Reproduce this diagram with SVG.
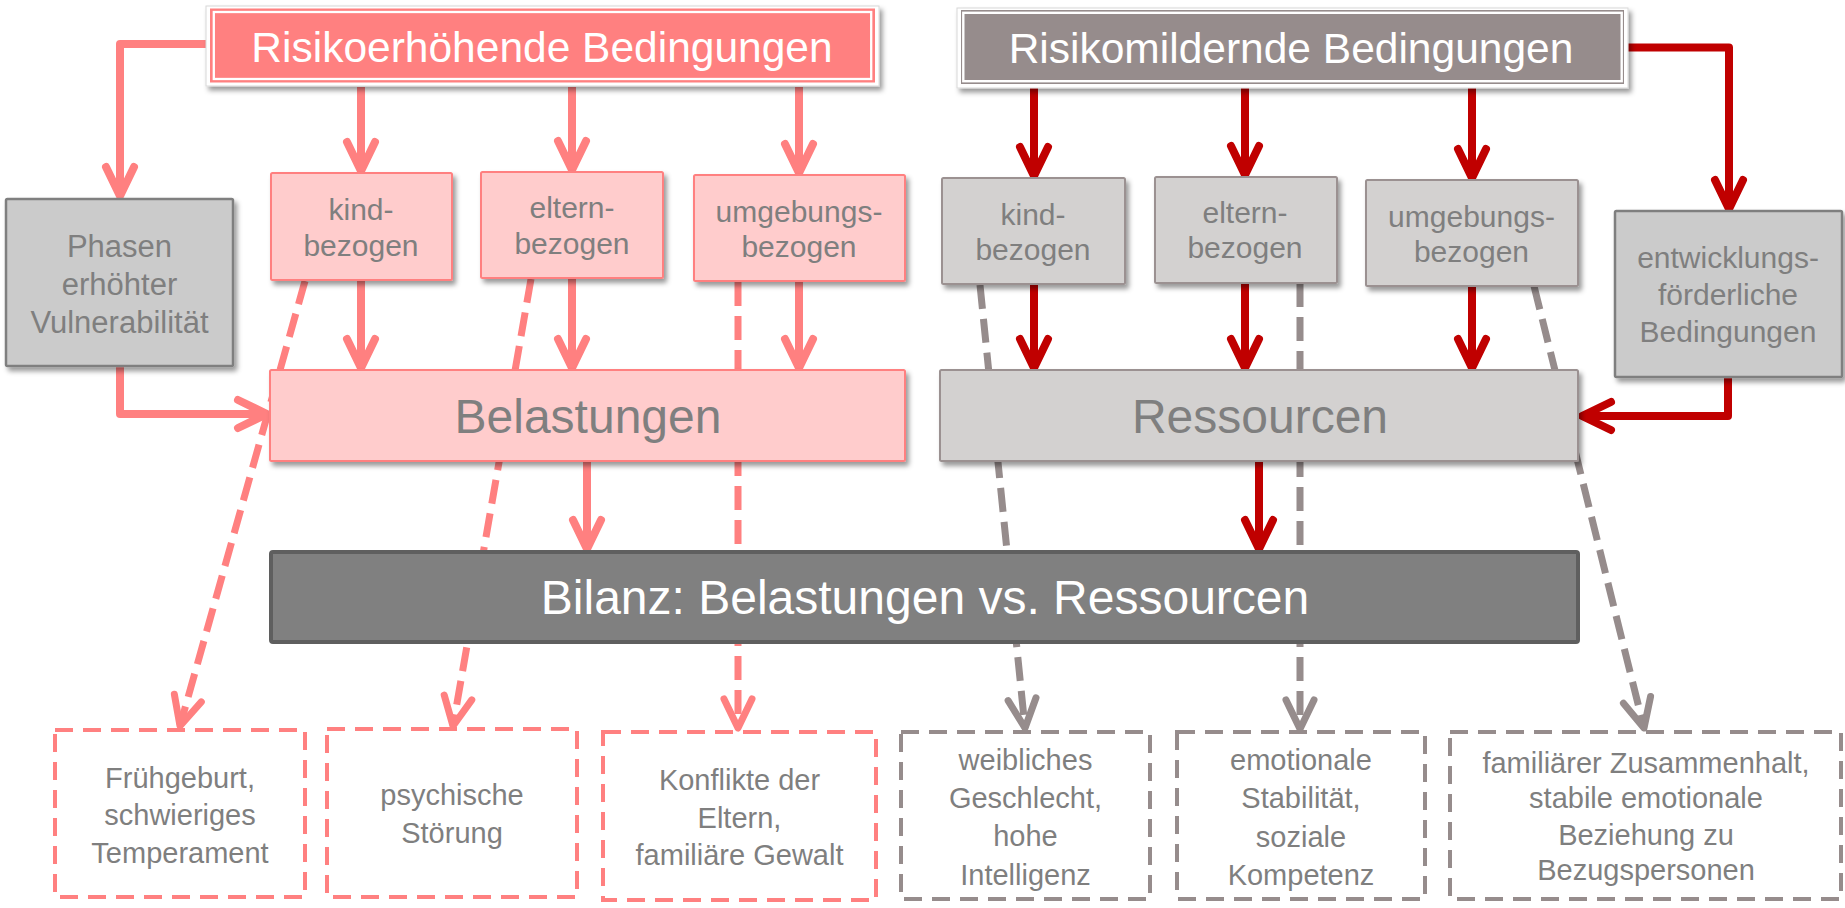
<svg xmlns="http://www.w3.org/2000/svg" width="1845" height="908" viewBox="0 0 1845 908">
<style>
text{font-family:"Liberation Sans",Arial,sans-serif;text-anchor:middle;fill:#7f7f7f}
.w{fill:#ffffff}
.t42{font-size:42.5px}
.t48{font-size:48px}
.t30{font-size:30px}
.t31{font-size:31px}
.t29{font-size:29px}
.pinkbox{fill:#ffcccc;stroke:#ff8080;stroke-width:2}
.graybox{fill:#d3d1d0;stroke:#9b9191;stroke-width:2}
.dgbox{fill:#cbcbcb;stroke:#7f7f7f;stroke-width:2.5}
.sh{filter:url(#shadow)}
.pl{fill:none;stroke:#ff8080;stroke-width:8}
.rl{fill:none;stroke:#c00000;stroke-width:8}
.pd{fill:none;stroke:#ff8080;stroke-width:7;stroke-dasharray:24 10}
.gd{fill:none;stroke:#968c8c;stroke-width:7;stroke-dasharray:24 10}
.pdb{fill:#ffffff;stroke:#ff8080;stroke-width:4;stroke-dasharray:18 10}
.gdb{fill:#ffffff;stroke:#968c8c;stroke-width:4;stroke-dasharray:18 10}
</style>
<defs>
<filter id="shadow" x="-10%" y="-20%" width="130%" height="150%">
<feDropShadow dx="3" dy="4" stdDeviation="2.5" flood-color="#000000" flood-opacity="0.4"/>
</filter>
<marker id="ap" markerUnits="userSpaceOnUse" markerWidth="50" markerHeight="50" viewBox="-40 -25 50 50" refX="0" refY="0" orient="auto">
<path d="M-29,-14 L0,0 L-29,14" fill="none" stroke="#ff8080" stroke-width="8" stroke-linecap="round" stroke-linejoin="round"/>
</marker>
<marker id="ar" markerUnits="userSpaceOnUse" markerWidth="50" markerHeight="50" viewBox="-40 -25 50 50" refX="0" refY="0" orient="auto">
<path d="M-29,-14 L0,0 L-29,14" fill="none" stroke="#c00000" stroke-width="8" stroke-linecap="round" stroke-linejoin="round"/>
</marker>
<marker id="apd" markerUnits="userSpaceOnUse" markerWidth="50" markerHeight="50" viewBox="-40 -25 50 50" refX="0" refY="0" orient="auto">
<path d="M-29,-14 L0,0 L-29,14" fill="none" stroke="#ff8080" stroke-width="7" stroke-linecap="round" stroke-linejoin="round"/>
</marker>
<marker id="agd" markerUnits="userSpaceOnUse" markerWidth="50" markerHeight="50" viewBox="-40 -25 50 50" refX="0" refY="0" orient="auto">
<path d="M-29,-14 L0,0 L-29,14" fill="none" stroke="#968c8c" stroke-width="7" stroke-linecap="round" stroke-linejoin="round"/>
</marker>
</defs>
<rect x="0" y="0" width="1845" height="908" fill="#ffffff"/>

<g id="connectors">
<!-- dashed pink -->
<path class="pd" d="M305,281 L180,726" marker-end="url(#apd)"/>
<path class="pd" d="M531,279 L453,726" marker-end="url(#apd)"/>
<path class="pd" d="M738,282 L738,728" marker-end="url(#apd)"/>
<!-- dashed gray -->
<path class="gd" d="M980,285 L1025,728" marker-end="url(#agd)"/>
<path class="gd" d="M1300,283 L1300,729" marker-end="url(#agd)"/>
<path class="gd" d="M1534,286 L1644,728" marker-end="url(#agd)"/>
<!-- solid pink -->
<path class="pl" stroke-linejoin="round" d="M207,44 H120 V196" marker-end="url(#ap)"/>
<path class="pl" d="M361,87 V171" marker-end="url(#ap)"/>
<path class="pl" d="M572,87 V170" marker-end="url(#ap)"/>
<path class="pl" d="M799,87 V173" marker-end="url(#ap)"/>
<path class="pl" d="M361,281 V368" marker-end="url(#ap)"/>
<path class="pl" d="M572,279 V368" marker-end="url(#ap)"/>
<path class="pl" d="M799,282 V368" marker-end="url(#ap)"/>
<path class="pl" stroke-linejoin="round" d="M120,367 V414 H267" marker-end="url(#ap)"/>
<path class="pl" d="M587,462 V549" marker-end="url(#ap)"/>
<!-- solid dark red -->
<path class="rl" d="M1034,88 V176" marker-end="url(#ar)"/>
<path class="rl" d="M1245,88 V175" marker-end="url(#ar)"/>
<path class="rl" d="M1472,88 V178" marker-end="url(#ar)"/>
<path class="rl" d="M1034,285 V368" marker-end="url(#ar)"/>
<path class="rl" d="M1245,284 V368" marker-end="url(#ar)"/>
<path class="rl" d="M1472,287 V368" marker-end="url(#ar)"/>
<path class="rl" stroke-linejoin="round" d="M1627,47.5 H1729 V209" marker-end="url(#ar)"/>
<path class="rl" stroke-linejoin="round" d="M1728,378 V416 H1582" marker-end="url(#ar)"/>
<path class="rl" d="M1259,462 V549" marker-end="url(#ar)"/>
</g>

<g id="risikoerhoehend">
<rect x="206" y="6" width="673" height="80" fill="#ffffff" stroke="#d8d8d8" stroke-width="1" class="sh"/>
<rect x="210" y="8.5" width="665" height="74" fill="#ff8080"/>
<rect x="213.8" y="12" width="657.4" height="67" fill="none" stroke="#ffffff" stroke-width="2.3"/>
<text class="w t42" x="542" y="62">Risikoerhöhende Bedingungen</text>
</g>

<g id="risikomildernd">
<rect x="957" y="8" width="671" height="80" fill="#ffffff" stroke="#d8d8d8" stroke-width="1" class="sh"/>
<rect x="961" y="10" width="663" height="74" fill="#968c8c"/>
<rect x="963.3" y="12.8" width="658.4" height="68.4" fill="none" stroke="#ffffff" stroke-width="2.4"/>
<text class="w t42" x="1291" y="62.5">Risikomildernde Bedingungen</text>
</g>

<g id="phasen">
<rect class="dgbox sh" x="6" y="199" width="227" height="167" rx="1.5"/>
<text class="t31" x="119.5" y="257">Phasen</text>
<text class="t31" x="119.5" y="295">erhöhter</text>
<text class="t31" x="119.5" y="333">Vulnerabilität</text>
</g>

<g id="kind-p">
<rect class="pinkbox sh" x="271" y="173" width="181" height="107" rx="1.5"/>
<text class="t30" x="361" y="220">kind-</text>
<text class="t30" x="361" y="256">bezogen</text>
</g>
<g id="eltern-p">
<rect class="pinkbox sh" x="481" y="172" width="182" height="106" rx="1.5"/>
<text class="t30" x="572" y="218">eltern-</text>
<text class="t30" x="572" y="254">bezogen</text>
</g>
<g id="umgebung-p">
<rect class="pinkbox sh" x="694" y="175" width="211" height="106" rx="1.5"/>
<text class="t30" x="799" y="222">umgebungs-</text>
<text class="t30" x="799" y="257">bezogen</text>
</g>

<g id="kind-g">
<rect class="graybox sh" x="942" y="178" width="183" height="106" rx="1.5"/>
<text class="t30" x="1033" y="225">kind-</text>
<text class="t30" x="1033" y="260">bezogen</text>
</g>
<g id="eltern-g">
<rect class="graybox sh" x="1155" y="177" width="182" height="106" rx="1.5"/>
<text class="t30" x="1245" y="223">eltern-</text>
<text class="t30" x="1245" y="258">bezogen</text>
</g>
<g id="umgebung-g">
<rect class="graybox sh" x="1366" y="180" width="212" height="106" rx="1.5"/>
<text class="t30" x="1471.5" y="227">umgebungs-</text>
<text class="t30" x="1471.5" y="262">bezogen</text>
</g>
<g id="entwicklung">
<rect class="dgbox sh" x="1615" y="211" width="227" height="166" rx="1.5"/>
<text class="t30" x="1728" y="268">entwicklungs-</text>
<text class="t30" x="1728" y="305">förderliche</text>
<text class="t30" x="1728" y="342">Bedingungen</text>
</g>

<g id="belastungen">
<rect class="pinkbox sh" x="270" y="370" width="635" height="91" rx="1.5"/>
<text class="t48" x="588" y="433">Belastungen</text>
</g>
<g id="ressourcen">
<rect class="graybox sh" x="940" y="370" width="638" height="91" rx="1.5"/>
<text class="t48" x="1260" y="433">Ressourcen</text>
</g>

<g id="bilanz">
<rect x="271" y="552" width="1307" height="90" rx="2" fill="#808080" stroke="#5f5f5f" stroke-width="4"/>
<text class="w t48" x="925" y="614">Bilanz: Belastungen vs. Ressourcen</text>
</g>

<g id="fruehgeburt">
<rect class="pdb" x="55" y="730" width="250" height="167"/>
<text class="t29" x="180" y="788">Frühgeburt,</text>
<text class="t29" x="180" y="825">schwieriges</text>
<text class="t29" x="180" y="863">Temperament</text>
</g>
<g id="psychisch">
<rect class="pdb" x="327" y="729" width="250" height="168"/>
<text class="t29" x="452" y="805">psychische</text>
<text class="t29" x="452" y="843">Störung</text>
</g>
<g id="konflikte">
<rect class="pdb" x="603" y="732" width="273" height="168"/>
<text class="t29" x="739.5" y="790">Konflikte der</text>
<text class="t29" x="739.5" y="828">Eltern,</text>
<text class="t29" x="739.5" y="865">familiäre Gewalt</text>
</g>
<g id="weiblich">
<rect class="gdb" x="901" y="732" width="249" height="167"/>
<text class="t29" x="1025.5" y="770">weibliches</text>
<text class="t29" x="1025.5" y="808">Geschlecht,</text>
<text class="t29" x="1025.5" y="846">hohe</text>
<text class="t29" x="1025.5" y="885">Intelligenz</text>
</g>
<g id="emotional">
<rect class="gdb" x="1177" y="732" width="248" height="167"/>
<text class="t29" x="1301" y="770">emotionale</text>
<text class="t29" x="1301" y="808">Stabilität,</text>
<text class="t29" x="1301" y="847">soziale</text>
<text class="t29" x="1301" y="885">Kompetenz</text>
</g>
<g id="familiaer">
<rect class="gdb" x="1450" y="732" width="391" height="167"/>
<text class="t29" x="1646" y="773">familiärer Zusammenhalt,</text>
<text class="t29" x="1646" y="808">stabile emotionale</text>
<text class="t29" x="1646" y="845">Beziehung zu</text>
<text class="t29" x="1646" y="880">Bezugspersonen</text>
</g>
</svg>
